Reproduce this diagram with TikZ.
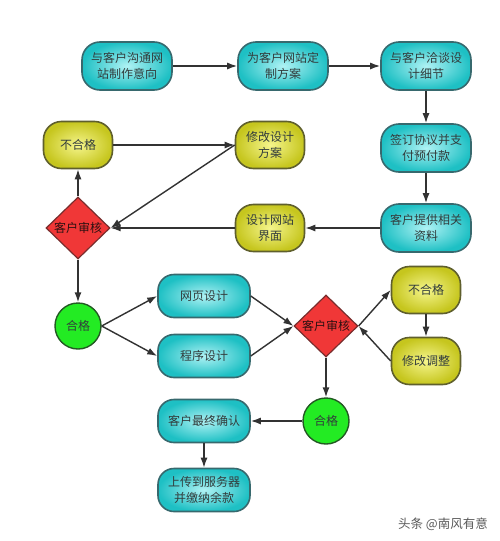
\documentclass[tikz,border=0pt]{standalone}
\usepackage{fontspec}
\setmainfont{Noto Sans CJK SC}
\usetikzlibrary{shapes.geometric,arrows.meta}
\definecolor{cyanout}{RGB}{30,192,196}
\definecolor{cyanin}{RGB}{175,242,244}
\definecolor{cyanbd}{RGB}{55,105,110}
\definecolor{yelout}{RGB}{198,198,30}
\definecolor{yelin}{RGB}{245,245,140}
\definecolor{yelbd}{RGB}{95,95,45}
\definecolor{redf}{RGB}{240,55,55}
\definecolor{redbd}{RGB}{120,45,45}
\definecolor{grnf}{RGB}{35,235,35}
\definecolor{grnbd}{RGB}{35,90,35}
\definecolor{txt}{RGB}{50,60,60}
\definecolor{arrc}{RGB}{50,50,50}
\tikzset{
  cbox/.style={draw=cyanbd, line width=1.6pt, rounded corners=18pt, inner color=cyanin, outer color=cyanout,
     minimum width=90pt, minimum height=48pt, align=center, text=txt, font=\fontsize{12}{16}\selectfont, inner sep=2pt},
  cboxs/.style={cbox, minimum width=92pt, minimum height=43pt, rounded corners=16pt},
  ybox/.style={draw=yelbd, line width=1.6pt, rounded corners=18pt, inner color=yelin, outer color=yelout,
     minimum width=69pt, minimum height=47pt, align=center, text=txt, font=\fontsize{12}{16}\selectfont, inner sep=2pt},
  dia/.style={diamond, draw=redbd, line width=1.2pt, fill=redf, minimum width=64pt, minimum height=62pt,
     inner sep=0pt, text=txt!70!red!40!black, font=\fontsize{12}{14}\selectfont},
  okc/.style={circle, draw=grnbd, line width=1.4pt, fill=grnf, minimum size=46pt, inner sep=0pt,
     text=txt, font=\fontsize{12}{14}\selectfont},
  arr/.style={draw=arrc, line width=1.4pt, -{Latex[length=10pt,width=7pt]}}
}
\begin{document}
\begin{tikzpicture}[x=1pt,y=-1pt]
\useasboundingbox (0,0) rectangle (500,541);
\fill[white] (0,0) rectangle (500,541);
\node[cbox] (A1) at (127,66) {与客户沟通网\\站制作意向};
\node[cbox] (A2) at (283,66) {为客户网站定\\制方案};
\node[cbox] (A3) at (426,66) {与客户洽谈设\\计细节};
\node[cbox] (B3) at (426,148) {签订协议并支\\付预付款};
\node[cbox] (C3) at (426,228) {客户提供相关\\资料};
\node[ybox] (C2) at (270,228) {设计网站\\界面};
\node[ybox] (Y1) at (78,145) {不合格};
\node[ybox] (Y2) at (270,145) {修改设计\\方案};
\node[dia] (D1) at (78,228) {客户审核};
\node[okc] (G1) at (78,326) {合格};
\node[cboxs] (W1) at (204,296) {网页设计};
\node[cboxs] (W2) at (204,356) {程序设计};
\node[dia] (D2) at (326,326) {客户审核};
\node[ybox] (Y3) at (426,290) {不合格};
\node[ybox] (Y4) at (426,361) {修改调整};
\node[okc] (G2) at (326,421) {合格};
\node[cboxs] (F1) at (204,421) {客户最终确认};
\node[cboxs] (F2) at (204,490) {上传到服务器\\并缴纳余款};
\node[text=black!65, font=\fontsize{12.5}{14}\selectfont] (WM) at (443,524) {头条 @南风有意};

\draw[arr] (A1) -- (A2);
\draw[arr] (A2) -- (A3);
\draw[arr] (A3) -- (B3);
\draw[arr] (B3) -- (C3);
\draw[arr] (C3) -- (C2);
\draw[arr] (C2) -- (D1.east);
\draw[arr] (Y2.west) -- (D1.east);
\draw[arr] (D1) -- (Y1);
\draw[arr] (Y1) -- (Y2);
\draw[arr] (D1) -- (G1);
\draw[arr] (G1.east) -- (W1.west);
\draw[arr] (G1.east) -- (W2.west);
\draw[arr] (W1.east) -- (D2.west);
\draw[arr] (W2.east) -- (D2.west);
\draw[arr] (D2.east) -- (Y3.west);
\draw[arr] (Y3) -- (Y4);
\draw[arr] (Y4.west) -- (D2.east);
\draw[arr] (D2) -- (G2);
\draw[arr] (G2) -- (F1);
\draw[arr] (F1) -- (F2);
\end{tikzpicture}
\end{document}
